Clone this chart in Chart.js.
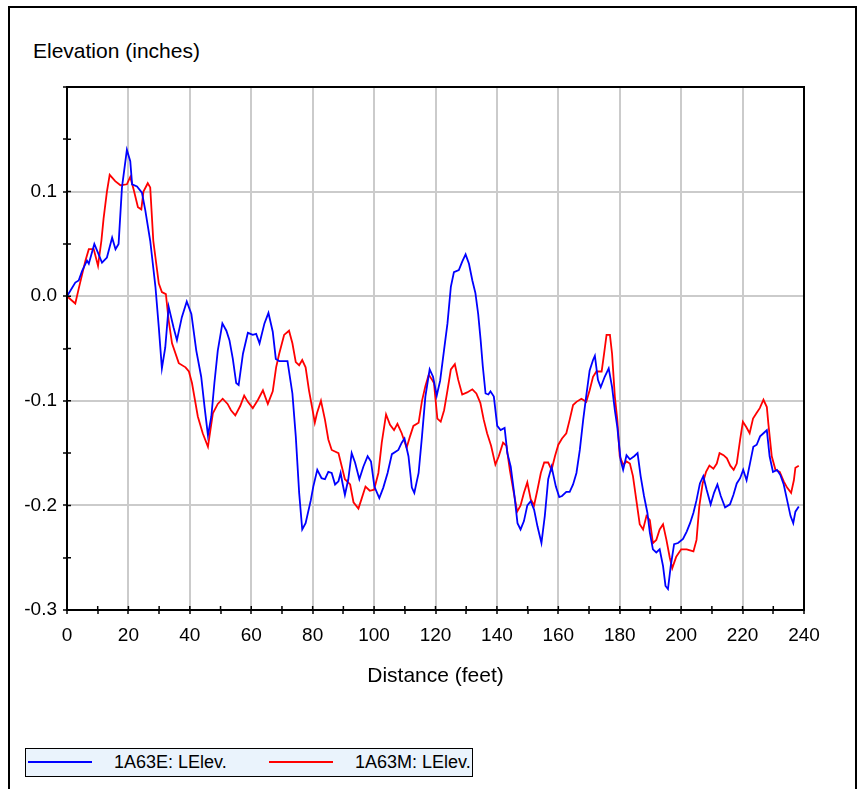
<!DOCTYPE html>
<html lang="en">
<head>
    <meta charset="UTF-8">
    <title>Elevation profile</title>
    <script src="https://cdn.jsdelivr.net/npm/chart.js"></script>
    <style>
        body {
            margin: 0;
            background: #fff;
            font-family: Arial, "Liberation Sans", sans-serif;
            color: #000;
        }
        .frame {
            position: absolute;
            left: 8px;
            top: 6px;
            width: 849px;
            height: 800px;
            box-sizing: border-box;
            border: 2px solid #000;
            border-bottom: none;
        }
        .ytitle {
            position: absolute;
            left: 33px;
            top: 38px;
            font-size: 21px;
            line-height: 25px;
        }
        .chart-wrap {
            position: absolute;
            left: 0;
            top: 0;
            width: 867px;
            height: 700px;
        }
        .legend {
            position: absolute;
            left: 25px;
            top: 748px;
            width: 448px;
            height: 29px;
            box-sizing: border-box;
            border: 1.5px solid #000;
            background: #eaf3fc;
            font-size: 18px;
        }
        .legend .swatch {
            position: absolute;
            top: 12px;
            width: 64px;
            height: 2px;
        }
        .legend .label {
            position: absolute;
            top: 3px;
            line-height: 20px;
        }
    </style>
</head>
<body>
    <div class="frame"></div>
    <div class="ytitle">Elevation (inches)</div>
    <div class="chart-wrap"><canvas id="profile"></canvas></div>
    <div class="legend" id="legend"></div>

    <script>
        // distance (ft) / elevation (in)
        const distE = [0, 2.7, 3.8, 4.9, 6.5, 7.1, 8.9, 10.3, 11.4, 13, 14.7, 15.8, 16.8, 17.9, 19.5, 20.6, 21.2, 22.8, 24.4, 25.5,
            27.1, 28.8, 29.9, 30.9, 32, 33.1, 34.7, 35.8, 37.4, 39, 40.5, 42.1, 43.7, 44.8, 45.9, 47, 48, 49.1, 50.6, 51.9,
            52.9, 54, 55.1, 55.9, 57.3, 58.9, 60.5, 61.6, 62.7, 64.3, 65.6, 67, 68, 69.1, 71.8, 73.4, 74.5, 75.6, 76.6, 77.7,
            79.4, 80.2, 81.5, 82.9, 84, 85.1, 86.2, 87.3, 88.4, 89.1, 89.8, 90.5, 91.6, 92.7, 93.8, 95.2, 96.5, 97.9, 99, 100.1,
            101.7, 103, 104.4, 105.8, 107.9, 109, 109.9, 111.2, 112.3, 113.1, 114.5, 115.6, 116.7, 118.1, 119.2, 120.4, 121.5, 122.8, 123.9, 125,
            126, 127.6, 128.7, 129.8, 130.9, 132, 133, 133.9, 134.7, 135.4, 136.3, 137.2, 137.9, 139, 140.1, 141.2, 142.5, 143.4, 144.5, 145.6,
            146.7, 147.7, 148.8, 149.9, 151, 152.1, 153.2, 154.5, 155.6, 156.7, 157.8, 159.2, 160.3, 161.2, 162.6, 163.7, 164.8, 165.9, 167, 168.1,
            169.1, 170.2, 171.3, 171.9, 172.9, 173.8, 175.1, 176.4, 177.5, 178.4, 179.2, 180.3, 181.1, 182.2, 183.3, 184.7, 185.8, 186.8, 187.9, 189,
            189.8, 190.8, 191.9, 193, 194.1, 194.9, 195.7, 196.6, 197.7, 199, 200.6, 201.8, 202.9, 204, 205, 206.1, 207.2, 208.3, 209.6, 210.7,
            211.8, 212.9, 214.3, 215.9, 217, 218.1, 219.2, 220.2, 221.3, 222.4, 223.5, 224.6, 225.7, 226.8, 227.9, 228.8, 229.9, 231.2, 232.3, 233.4,
            234.5, 235.6, 236.5, 237.2, 238.3];
        const elevE = [0, 0.013, 0.015, 0.024, 0.034, 0.031, 0.05, 0.04, 0.032, 0.037, 0.056, 0.045, 0.05, 0.104, 0.14, 0.129, 0.107, 0.105, 0.099, 0.082,
            0.053, 0.009, -0.03, -0.069, -0.049, -0.01, -0.03, -0.042, -0.02, -0.005, -0.017, -0.052, -0.077, -0.106, -0.133, -0.115, -0.083, -0.052, -0.026, -0.033,
            -0.042, -0.06, -0.083, -0.085, -0.055, -0.035, -0.037, -0.036, -0.045, -0.026, -0.016, -0.034, -0.06, -0.062, -0.062, -0.093, -0.134, -0.188, -0.223, -0.217,
            -0.195, -0.182, -0.166, -0.174, -0.175, -0.168, -0.169, -0.18, -0.177, -0.169, -0.18, -0.19, -0.175, -0.15, -0.159, -0.175, -0.163, -0.153, -0.158, -0.182,
            -0.193, -0.183, -0.169, -0.151, -0.147, -0.14, -0.136, -0.153, -0.183, -0.188, -0.169, -0.134, -0.096, -0.07, -0.077, -0.095, -0.081, -0.051, -0.026, 0.009,
            0.023, 0.025, 0.033, 0.04, 0.031, 0.015, 0.003, -0.017, -0.042, -0.067, -0.093, -0.094, -0.091, -0.096, -0.124, -0.128, -0.126, -0.15, -0.163, -0.188,
            -0.217, -0.223, -0.215, -0.2, -0.196, -0.204, -0.22, -0.236, -0.21, -0.175, -0.163, -0.182, -0.192, -0.191, -0.187, -0.187, -0.18, -0.169, -0.147, -0.118,
            -0.095, -0.071, -0.061, -0.057, -0.08, -0.087, -0.077, -0.069, -0.087, -0.109, -0.125, -0.157, -0.166, -0.152, -0.156, -0.153, -0.15, -0.172, -0.191, -0.207,
            -0.226, -0.242, -0.245, -0.242, -0.258, -0.277, -0.28, -0.258, -0.237, -0.236, -0.232, -0.225, -0.217, -0.207, -0.195, -0.179, -0.172, -0.185, -0.199, -0.188,
            -0.18, -0.191, -0.202, -0.199, -0.19, -0.179, -0.174, -0.166, -0.176, -0.16, -0.144, -0.142, -0.134, -0.131, -0.128, -0.153, -0.168, -0.166, -0.171, -0.18,
            -0.195, -0.21, -0.217, -0.206, -0.201];

        const distM = [0, 2.7, 3.8, 6, 7.1, 8.7, 10.1, 11.2, 11.9, 13, 13.9, 15.7, 17.4, 19.5, 20.6, 21.7, 23.1, 24.2, 24.9, 26.3,
            27.1, 28.1, 29.9, 30.9, 32.2, 33.1, 34.2, 36.4, 38.6, 39.7, 40.7, 42.6, 44.2, 45.9, 47.5, 49.1, 50.7, 52.3, 53.4, 54.8,
            56.4, 57.7, 58.9, 60.5, 62.2, 63.8, 65.4, 67, 68.1, 69.1, 70.7, 72.3, 73.4, 74.5, 75.6, 76.6, 77.7, 78.8, 79.8, 80.7,
            81.4, 82.7, 84, 85.1, 86.2, 88.4, 89.5, 90.5, 92.2, 93.3, 94.9, 95.9, 97.2, 98.6, 100, 101.4, 102.5, 103.9, 105.2, 106.5,
            107.6, 109, 110.6, 111.7, 112.8, 114.5, 115.6, 116.7, 117.8, 118.9, 119.5, 120.6, 121.7, 122.8, 123.9, 125, 126.3, 127.4, 128.7, 130.3,
            132, 133.3, 134.6, 135.7, 136.8, 138.1, 139.5, 140.6, 142, 143.1, 144.2, 145.5, 146.6, 147.7, 148.8, 149.9, 151, 152.1, 153.2, 154.3,
            155.4, 156.7, 157.8, 158.9, 160, 161.2, 162.6, 163.7, 164.8, 165.9, 167.5, 169.1, 170.2, 171.3, 172.4, 174.1, 174.9, 175.7, 176.8, 177.5,
            178.4, 179.2, 180, 181.1, 182.2, 183.3, 184.3, 185.4, 186.5, 187.6, 188.7, 189.8, 190.8, 191.9, 193, 194.1, 195.2, 196.3, 197.1, 198.4,
            200, 201.8, 202.9, 204, 205, 205.9, 207, 208.1, 209.2, 210.5, 211.6, 212.5, 213.8, 214.9, 216, 217.1, 218.1, 219.2, 220.1, 221.2,
            222.3, 223.4, 224.5, 225.6, 226.8, 227.9, 228.4, 229.5, 230.7, 232.1, 233.4, 234.5, 235.8, 236.7, 237.2, 238.3];
        const elevM = [0, -0.007, 0.007, 0.034, 0.045, 0.045, 0.029, 0.053, 0.074, 0.1, 0.116, 0.11, 0.106, 0.107, 0.114, 0.102, 0.085, 0.083, 0.1, 0.108,
            0.104, 0.053, 0.012, 0.004, 0.002, -0.023, -0.045, -0.064, -0.068, -0.072, -0.083, -0.115, -0.131, -0.144, -0.112, -0.103, -0.098, -0.103, -0.109, -0.114,
            -0.105, -0.095, -0.101, -0.107, -0.099, -0.09, -0.103, -0.091, -0.068, -0.055, -0.037, -0.033, -0.045, -0.063, -0.066, -0.061, -0.068, -0.09, -0.106, -0.121,
            -0.112, -0.1, -0.118, -0.137, -0.147, -0.15, -0.163, -0.175, -0.18, -0.197, -0.203, -0.194, -0.182, -0.186, -0.185, -0.169, -0.14, -0.113, -0.123, -0.128,
            -0.122, -0.131, -0.145, -0.134, -0.124, -0.121, -0.1, -0.086, -0.075, -0.08, -0.083, -0.117, -0.12, -0.109, -0.09, -0.07, -0.065, -0.08, -0.094, -0.092,
            -0.089, -0.093, -0.102, -0.118, -0.131, -0.143, -0.161, -0.153, -0.14, -0.143, -0.166, -0.188, -0.206, -0.2, -0.188, -0.178, -0.194, -0.2, -0.185, -0.169,
            -0.159, -0.159, -0.166, -0.153, -0.142, -0.136, -0.131, -0.118, -0.104, -0.101, -0.098, -0.101, -0.09, -0.077, -0.072, -0.072, -0.055, -0.037, -0.037, -0.055,
            -0.096, -0.118, -0.153, -0.161, -0.158, -0.16, -0.172, -0.195, -0.218, -0.223, -0.21, -0.214, -0.236, -0.233, -0.223, -0.218, -0.233, -0.25, -0.26, -0.249,
            -0.242, -0.242, -0.243, -0.244, -0.233, -0.201, -0.179, -0.168, -0.162, -0.165, -0.16, -0.15, -0.152, -0.155, -0.162, -0.166, -0.16, -0.137, -0.12, -0.125,
            -0.131, -0.117, -0.112, -0.107, -0.099, -0.106, -0.122, -0.153, -0.166, -0.168, -0.177, -0.183, -0.188, -0.176, -0.164, -0.162];

        const seriesNames = ['1A63E: LElev.', '1A63M: LElev.'];
        const seriesColors = ['#0000ff', '#ff0000'];

        const xTickStep = 10;   // ticks every 10 ft, labels every 20
        const yTickStep = 0.05; // ticks every 0.05 in, labels every 0.1

        function toPoints(xs, ys) {
            return xs.map((x, i) => ({ x: x, y: ys[i] }));
        }

        const gridGray = '#cbcbcb';
        const clear = 'rgba(0,0,0,0)';

        // frame round the plot area plus the short inner part of each tick
        const plotFrame = {
            id: 'plotFrame',
            afterDraw(chart) {
                const { ctx, chartArea: a } = chart;
                const xs = chart.scales.x, ys = chart.scales.y;
                ctx.save();
                ctx.strokeStyle = '#000';
                ctx.lineWidth = 1.5;
                ctx.beginPath();
                xs.ticks.forEach(t => {
                    const px = xs.getPixelForValue(t.value);
                    ctx.moveTo(px, a.bottom);
                    ctx.lineTo(px, a.bottom - 4);
                });
                ys.ticks.forEach(t => {
                    const py = ys.getPixelForValue(t.value);
                    ctx.moveTo(a.left, py);
                    ctx.lineTo(a.left + 4, py);
                });
                ctx.stroke();
                ctx.lineWidth = 2;
                ctx.strokeRect(a.left, a.top, a.right - a.left, a.bottom - a.top);
                ctx.restore();
            }
        };

        const ctx = document.getElementById('profile').getContext('2d');
        new Chart(ctx, {
            type: 'line',
            data: {
                datasets: [
                    { label: seriesNames[0], data: toPoints(distE, elevE), borderColor: seriesColors[0] },
                    { label: seriesNames[1], data: toPoints(distM, elevM), borderColor: seriesColors[1] }
                ]
            },
            options: {
                responsive: true,
                maintainAspectRatio: false,
                animation: false,
                layout: { padding: { left: 0, top: 87, right: 63, bottom: 0 } },
                elements: {
                    line: { borderWidth: 1.8, tension: 0, fill: false },
                    point: { radius: 0 }
                },
                plugins: {
                    legend: { display: false },
                    tooltip: { enabled: false }
                },
                scales: {
                    x: {
                        type: 'linear',
                        min: 0,
                        max: 240,
                        afterFit(scale) { scale.height = 90; },
                        border: { display: false },
                        grid: {
                            color: c => (c.tick && c.tick.value % 20 === 0) ? gridGray : clear,
                            lineWidth: 2,
                            tickColor: '#000',
                            tickLength: 4,
                            tickWidth: 1.5
                        },
                        ticks: {
                            stepSize: xTickStep,
                            autoSkip: false,
                            maxRotation: 0,
                            padding: 10,
                            color: '#000',
                            font: { family: 'Arial, "Liberation Sans"', size: 19 },
                            callback: v => (v % 20 === 0 ? String(v) : '')
                        },
                        title: {
                            display: true,
                            text: 'Distance (feet)',
                            color: '#000',
                            font: { family: 'Arial, "Liberation Sans"', size: 21 },
                            padding: { top: 0, bottom: 11 }
                        }
                    },
                    y: {
                        min: -0.3,
                        max: 0.2,
                        afterFit(scale) { scale.width = 67; },
                        border: { display: false },
                        grid: {
                            color: c => {
                                const k = Math.round(c.tick.value * 100);
                                return k % 10 === 0 ? gridGray : clear;
                            },
                            lineWidth: 2,
                            tickColor: '#000',
                            tickLength: 4,
                            tickWidth: 1.5
                        },
                        ticks: {
                            stepSize: yTickStep,
                            autoSkip: false,
                            padding: 6,
                            color: '#000',
                            font: { family: 'Arial, "Liberation Sans"', size: 19 },
                            callback: v => {
                                const k = Math.round(v * 100);
                                if (k % 10 !== 0 || k === 20) return '';
                                return (k / 100).toFixed(1);
                            }
                        }
                    }
                }
            },
            plugins: [plotFrame]
        });

        // legend strip at the bottom
        const legend = document.getElementById('legend');
        const swatchLeft = [2, 243];
        const labelLeft = [88, 329];
        seriesNames.forEach((name, i) => {
            const sw = document.createElement('div');
            sw.className = 'swatch';
            sw.style.left = swatchLeft[i] + 'px';
            sw.style.background = seriesColors[i];
            legend.appendChild(sw);
            const lb = document.createElement('div');
            lb.className = 'label';
            lb.style.left = labelLeft[i] + 'px';
            lb.textContent = name;
            legend.appendChild(lb);
        });
    </script>
</body>
</html>
